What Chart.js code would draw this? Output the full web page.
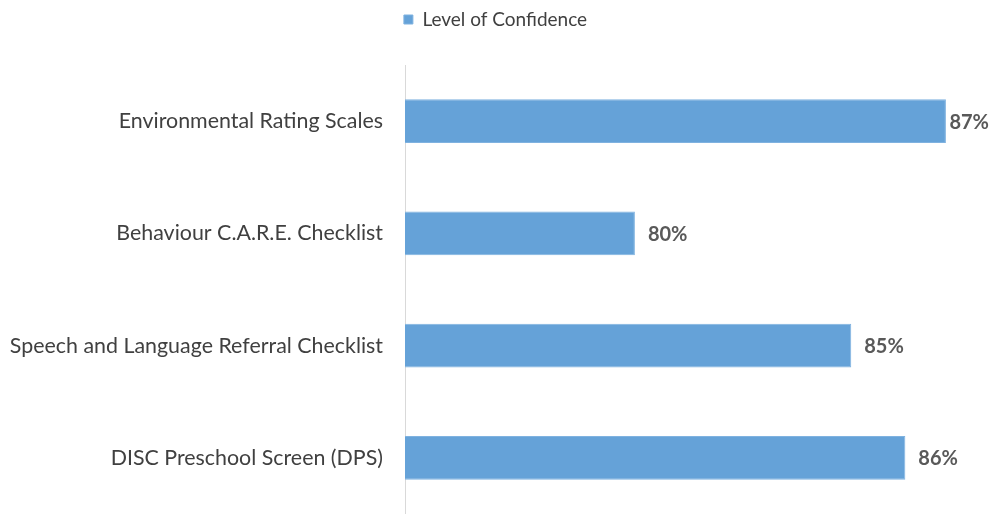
<!DOCTYPE html>
<html>
<head>
<meta charset="utf-8">
<script src="https://cdn.jsdelivr.net/npm/chart.js@4"></script>
<style>
  html, body { margin: 0; padding: 0; background: #fff; }
  #wrap { width: 991px; height: 514px; }
</style>
</head>
<body>
<div id="wrap"><canvas id="chart"></canvas></div>
<script>
const toolNames = [
    'Environmental Rating Scales',
    'Behaviour C.A.R.E. Checklist',
    'Speech and Language Referral Checklist',
    'DISC Preschool Screen (DPS)'
];
const confidenceLevels = [87, 80.1, 84.9, 86.1];
const seriesLabel = 'Level of Confidence';

const barColor = '#65a2d8';
const fontFamily = 'Lato, "Open Sans", sans-serif';

// Excel-style "outside end" labels, pulled back when they would run off the canvas
const valueLabels = {
    id: 'valueLabels',
    afterDatasetsDraw(chart) {
        const ctx = chart.ctx;
        const meta = chart.getDatasetMeta(0);
        ctx.save();
        ctx.font = 'bold 20px ' + fontFamily;
        ctx.fillStyle = '#595959';
        ctx.textBaseline = 'middle';
        ctx.textAlign = 'left';
        meta.data.forEach((bar, i) => {
            const text = Math.round(confidenceLevels[i]) + '%';
            const w = ctx.measureText(text).width;
            const x = Math.min(bar.x + 13, chart.width - w - 2);
            ctx.fillText(text, x, bar.y + 1);
        });
        ctx.restore();
    }
};

// give the legend a fixed block height so the plot starts lower
const legendHeight = {
    id: 'legendHeight',
    beforeLayout(chart) {
        const legend = chart.legend;
        if (legend && !legend._fixedFit) {
            const origFit = legend.fit.bind(legend);
            legend.fit = function () {
                origFit();
                this.height = 65;
                this.minSize && (this.minSize.height = 65);
            };
            legend._fixedFit = true;
        }
    }
};

const ctx = document.getElementById('chart').getContext('2d');
const myChart = new Chart(ctx, {
    type: 'bar',
    data: {
        labels: toolNames,
        datasets: [{
            label: seriesLabel,
            data: confidenceLevels,
            backgroundColor: barColor,
            borderColor: '#7fb2e0',
            borderWidth: 1,
            categoryPercentage: 1,
            barPercentage: 0.39,
        }]
    },
    options: {
        indexAxis: 'y',
        responsive: true,
        maintainAspectRatio: false,
        animation: false,
        layout: { padding: 0 },
        scales: {
            x: {
                display: false,
                min: 75,
                max: 88,
            },
            y: {
                grid: { display: false },
                border: { display: true, color: '#d9d9d9', width: 1 },
                ticks: {
                    padding: 14,
                    color: '#404040',
                    font: { family: fontFamily, size: 21.4 },
                },
                afterFit: (scale) => {
                    scale.width = 405;
                    scale.paddingTop = 0;
                    scale.paddingBottom = 0;
                }
            }
        },
        plugins: {
            legend: {
                position: 'top',
                labels: {
                    boxWidth: 9,
                    boxHeight: 9,
                    padding: 10,
                    color: '#404040',
                    font: { family: fontFamily, size: 19 },
                },
            },
            tooltip: { enabled: false }
        }
    },
    plugins: [valueLabels, legendHeight]
});
</script>
</body>
</html>
